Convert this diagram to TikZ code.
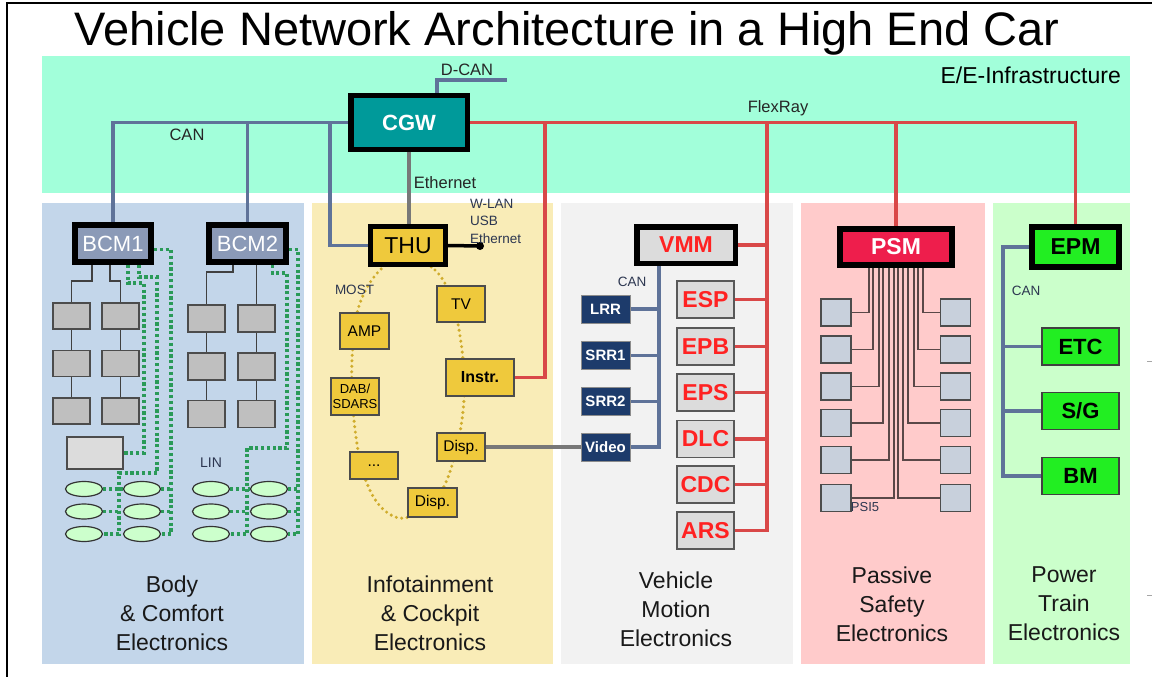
\documentclass[tikz,border=0pt]{standalone}
\usepackage{fontspec}
\setmainfont{Liberation Sans}
\usetikzlibrary{shapes.geometric}
\pgfdeclarelayer{back}
\pgfdeclarelayer{wires}
\pgfsetlayers{back,wires,main}

\newcommand{\setfs}[1]{\fontsize{#1}{#1}\selectfont}

\definecolor{infraC}{HTML}{A2FFDA}
\definecolor{bodyC}{HTML}{C3D6EA}
\definecolor{infoC}{HTML}{F9ECB7}
\definecolor{motionC}{HTML}{F2F2F2}
\definecolor{safetyC}{HTML}{FFCBCB}
\definecolor{powerC}{HTML}{CBFFCB}
\definecolor{canC}{HTML}{5F7399}
\definecolor{flexC}{HTML}{D94848}
\definecolor{ethC}{HTML}{787878}
\definecolor{cgwC}{HTML}{009A9A}
\definecolor{bcmC}{HTML}{8B9AB7}
\definecolor{thuC}{HTML}{EFC93C}
\definecolor{ecuGray}{HTML}{DCDCDC}
\definecolor{psmC}{HTML}{EE1E4C}
\definecolor{epmC}{HTML}{22EE22}
\definecolor{navyC}{HTML}{1D3B6B}
\definecolor{redT}{HTML}{FF2222}
\definecolor{linGreen}{HTML}{2A9A58}
\definecolor{mostC}{HTML}{D0AC2C}
\definecolor{slateT}{HTML}{2C3650}
\definecolor{sensorC}{HTML}{C8D0DC}
\definecolor{psiC}{HTML}{5A4848}
\definecolor{leafC}{HTML}{CCFFCC}
\definecolor{nodeGray}{HTML}{BFBFBF}

\begin{document}
\begin{tikzpicture}[x=1pt,y=-1pt,
  hub/.style={draw=black, inner sep=0pt, font=\setfs{22}},
  wire/.style={line width=3.7pt},
  canline/.style={wire, draw=canC},
  flexline/.style={wire, draw=flexC},
  ethline/.style={wire, draw=ethC},
  treeline/.style={draw=black!75, line width=1.2pt},
  linbus/.style={draw=linGreen, line width=3.4pt, dash pattern=on 3.2pt off 2.6pt},
  mostring/.style={draw=mostC, line width=3.4pt, line cap=round, dash pattern=on 0pt off 5.5pt},
  cellbox/.style={draw=black!70, fill=nodeGray, line width=1.2pt, minimum width=37pt, minimum height=26pt, inner sep=0pt},
  leafnode/.style={ellipse, draw=black!80, fill=leafC, line width=1.2pt, minimum width=37pt, minimum height=15pt, inner sep=0pt},
  infobox/.style={draw=black!70, fill=thuC, line width=1.2pt, inner sep=0pt, font=\setfs{15.5}},
  redbox/.style={draw=black!65, fill=ecuGray, line width=1.2pt, inner sep=0pt, minimum width=57pt, minimum height=37pt, text=redT, font=\setfs{23}\bfseries},
  navybox/.style={draw=black!45, fill=navyC, line width=1pt, inner sep=0pt, minimum width=49pt, minimum height=28pt, text=white, font=\setfs{15}\bfseries},
  sensorbox/.style={draw=black!70, fill=sensorC, line width=1.2pt, minimum width=30pt, minimum height=27pt, inner sep=0pt},
  psiline/.style={draw=psiC, line width=1.3pt},
  ptbox/.style={draw=black!75, fill=epmC, line width=1.2pt, inner sep=0pt, minimum width=77pt, minimum height=37pt, font=\setfs{22}\bfseries},
  buslabel/.style={font=\setfs{16.5}, text=black!85, inner sep=0pt},
  smalllabel/.style={font=\setfs{13.5}, text=slateT, inner sep=0pt},
  domaincap/.style={font=\fontsize{23}{29}\selectfont, align=center, text=black!90}
]
\useasboundingbox (0,0) rectangle (1152,677);

% ---------- frame, title and domain panels ----------
\begin{pgfonlayer}{back}
\fill[white] (0,0) rectangle (1152,677);
\draw[black, line width=1.5pt] (7,677) -- (7,3) -- (1152,3);
\fill[infraC] (42,56) rectangle (1130,193);
\fill[bodyC] (42,203) rectangle (304,664);
\fill[infoC] (312,203) rectangle (553,664);
\fill[motionC] (561,203) rectangle (793,664);
\fill[safetyC] (801,203) rectangle (985,664);
\fill[powerC] (993,203) rectangle (1130,664);
\draw[black!35, line width=0.8pt] (1147,361) -- (1152,361);
\draw[black!35, line width=0.8pt] (1147,595) -- (1152,595);
\end{pgfonlayer}

\node[font=\setfs{47}, inner sep=0pt] (title) at (567,33) {Vehicle Network Architecture in a High End Car};
\node[anchor=east, font=\setfs{23}, inner sep=0pt] (infra) at (1121,75) {E/E-Infrastructure};

% ---------- domain controllers ----------
\node[hub, line width=5.5pt, fill=cgwC, text=white, minimum width=116.5pt, minimum height=54pt, font=\setfs{22}\bfseries] (CGW) at (409,122.5) {CGW};
\node[hub, line width=6pt, fill=bcmC, text=white, minimum width=76pt, minimum height=37pt] (BCM1) at (113,243.5) {BCM1};
\node[hub, line width=6pt, fill=bcmC, text=white, minimum width=77pt, minimum height=37pt] (BCM2) at (247.5,243.5) {BCM2};
\node[hub, line width=5pt, fill=thuC, text=black, minimum width=75pt, minimum height=38pt, font=\setfs{23}] (THU) at (408,245.5) {THU};
\node[hub, line width=5.5pt, fill=ecuGray, text=redT, minimum width=98.5pt, minimum height=36.5pt, font=\setfs{23}\bfseries] (VMM) at (686,245) {VMM};
\node[hub, line width=6pt, fill=psmC, text=white, minimum width=112pt, minimum height=36pt, font=\setfs{23}\bfseries] (PSM) at (896,247) {PSM};
\node[hub, line width=6pt, fill=epmC, text=black, minimum width=87pt, minimum height=40pt, font=\setfs{23}\bfseries] (EPM) at (1075.5,247) {EPM};

% ---------- body & comfort ----------
\node[cellbox] (g11) at (71.5,316) {};
\node[cellbox] (g12) at (120.5,316) {};
\node[cellbox] (g21) at (71.5,363.5) {};
\node[cellbox] (g22) at (120.5,363.5) {};
\node[cellbox] (g31) at (71.5,411) {};
\node[cellbox] (g32) at (120.5,411) {};
\node[cellbox, minimum height=27pt] (h11) at (206.5,318.5) {};
\node[cellbox, minimum height=27pt] (h12) at (256.5,318.5) {};
\node[cellbox, minimum height=27pt] (h21) at (206.5,366.5) {};
\node[cellbox, minimum height=27pt] (h22) at (256.5,366.5) {};
\node[cellbox, minimum height=27pt] (h31) at (206.5,414) {};
\node[cellbox, minimum height=27pt] (h32) at (256.5,414) {};
\node[cellbox, fill=ecuGray, minimum width=56pt, minimum height=32pt] (lamp) at (95,453) {};

\foreach \c/\x in {A/84,B/142,C/211,D/269}{
  \node[leafnode] (e\c1) at (\x,489) {};
  \node[leafnode] (e\c2) at (\x,511.5) {};
  \node[leafnode] (e\c3) at (\x,534) {};
}
\node[smalllabel, font=\setfs{14}] (lin) at (211,463) {LIN};

\coordinate (linA) at (171,0);
\coordinate (linB) at (144,0);
\coordinate (linC) at (157,473);
\coordinate (linD) at (119,0);
\coordinate (linE) at (298,0);
\coordinate (linF) at (287,448);
\coordinate (linG) at (247,0);

% ---------- infotainment & cockpit ----------
\node[infobox, minimum width=48pt, minimum height=36pt] (TV) at (461,304) {TV};
\node[infobox, minimum width=49pt, minimum height=36pt] (AMP) at (364.5,331) {AMP};
\node[infobox, minimum width=68pt, minimum height=37pt, font=\setfs{16}\bfseries] (Instr) at (480,377.5) {Instr.};
\node[infobox, minimum width=48pt, minimum height=37pt, align=center, font=\fontsize{13}{15}\selectfont] (DAB) at (355,396.5) {DAB/\\SDARS};
\node[infobox, minimum width=48pt, minimum height=28pt] (disp1) at (461,447) {Disp.};
\node[infobox, minimum width=48pt, minimum height=27pt] (etc) at (374,465.5) {...};
\node[infobox, minimum width=49pt, minimum height=29pt] (disp2) at (432.5,502.5) {Disp.};
\node[smalllabel] (most) at (354.5,290) {MOST};
\node[anchor=north west, align=left, font=\fontsize{13.5}{17.5}\selectfont, text=slateT, inner sep=0pt] (ifaces) at (470,199) {W-LAN\\USB\\Ethernet};
\coordinate (ifaceEnd) at (480,246);

% ---------- vehicle motion ----------
\node[redbox] (ESP) at (705.5,299.5) {ESP};
\node[redbox] (EPB) at (705.5,346.5) {EPB};
\node[redbox] (EPS) at (705.5,392.5) {EPS};
\node[redbox] (DLC) at (705.5,439) {DLC};
\node[redbox] (CDC) at (705.5,484.5) {CDC};
\node[redbox] (ARS) at (705.5,530.5) {ARS};
\node[navybox] (LRR) at (605.5,309) {LRR};
\node[navybox] (SRR1) at (605.5,355.5) {SRR1};
\node[navybox] (SRR2) at (605.5,401.5) {SRR2};
\node[navybox] (Video) at (605.5,447) {Video};
\node[smalllabel] (vcanlbl) at (632,282) {CAN};

% ---------- passive safety ----------
\foreach \r/\y in {1/312.5,2/349.5,3/386.5,4/423,5/460,6/498}{
  \node[sensorbox] (sL\r) at (836,\y) {};
  \node[sensorbox] (sR\r) at (955.5,\y) {};
}
\node[smalllabel, font=\setfs{13}] (psi) at (865,507) {PSI5};

% ---------- power train ----------
\node[ptbox] (ETC) at (1080.5,346.5) {ETC};
\node[ptbox] (SG) at (1080.5,411) {S/G};
\node[ptbox] (BM) at (1080.5,476) {BM};
\node[smalllabel] (pcanlbl) at (1026,291) {CAN};

% ---------- bus labels ----------
\node[buslabel] (canlbl) at (187,135) {CAN};
\node[buslabel] (dcanlbl) at (467,70) {D-CAN};
\node[buslabel] (ethlbl) at (445,183) {Ethernet};
\node[buslabel] (flexlbl) at (778,108) {FlexRay};

% ---------- domain captions ----------
\node[domaincap] (dBody) at (172,613) {Body\\\& Comfort\\Electronics};
\node[domaincap] (dInfo) at (430,613) {Infotainment\\\& Cockpit\\Electronics};
\node[domaincap] (dMotion) at (676,609) {Vehicle\\Motion\\Electronics};
\node[domaincap] (dSafety) at (892,604) {Passive\\Safety\\Electronics};
\node[domaincap] (dPower) at (1064,604) {Power\\Train\\Electronics};

% ---------- connectors ----------
\begin{pgfonlayer}{wires}
% backbone CAN
\coordinate (thuTap) at (330,122.5);
\draw[canline] (CGW.west) -- (CGW.west -| BCM1.north) -- (BCM1.north);
\draw[canline] (CGW.west -| BCM2.north) -- (BCM2.north);
\draw[canline] (thuTap) |- (THU.west);
\coordinate (dcanEnd) at (507,80);
\draw[canline] ([xshift=28]CGW.north) |- (dcanEnd);
% Ethernet
\draw[ethline] (CGW.south) -- (CGW.south |- THU.north);
% FlexRay
\coordinate (instrTap) at (545,122.5);
\coordinate (vmmTap) at (767,122.5);
\draw[flexline] (CGW.east) -| (EPM.north);
\draw[flexline] (CGW.east -| PSM.north) -- (PSM.north);
\draw[flexline] (instrTap) |- (Instr.east);
\draw[flexline] (vmmTap) |- (ARS.east);
\draw[flexline] (VMM.east) -- (VMM.east -| vmmTap);
\foreach \n in {ESP,EPB,EPS,DLC,CDC}{
  \draw[flexline] (\n.east) -- (\n.east -| vmmTap);
}
% chassis CAN
\coordinate (vcan) at ([xshift=-27]VMM.south);
\draw[canline] (vcan) |- (Video.east);
\foreach \n in {LRR,SRR1,SRR2}{
  \draw[canline] (\n.east) -- (\n.east -| vcan);
}
% power train CAN
\coordinate (pcan) at (1003,247);
\draw[canline] (EPM.west) -- (pcan) |- (BM.west);
\foreach \n in {ETC,SG}{
  \draw[canline] (\n.west) -- (\n.west -| pcan);
}
% THU external interfaces and display link
\draw[black, line width=3.5pt] (THU.east) -- (ifaceEnd);
\fill[black] (ifaceEnd) circle[radius=4pt];
\draw[ethline] (disp1.east) -- (Video.west);
% MOST ring
\draw[mostring] plot[smooth cycle, tension=0.6] coordinates {
  (407,258) (435,270) (452,300) (462,350) (464,400) (455,455) (437,498)
  (405,518) (380,506) (363,472) (354,420) (352,360) (359,306) (380,270)};
% body sub-networks
\draw[treeline] ([xshift=-21]BCM1.south) -- ++(0,16) -| (g11.north);
\draw[treeline] ([xshift=-3]BCM1.south) -- ++(0,16) -| (g12.north);
\draw[treeline] (g11.south) -- (g21.north) (g21.south) -- (g31.north)
            (g12.south) -- (g22.north) (g22.south) -- (g32.north);
\draw[treeline] ([xshift=-14.5]BCM2.south) -- ++(0,7) -| (h11.north);
\draw[treeline] (h12.north |- BCM2.south) -- (h12.north);
\draw[treeline] (h11.south) -- (h21.north) (h21.south) -- (h31.north)
            (h12.south) -- (h22.north) (h22.south) -- (h32.north);
% LIN buses
\draw[linbus] ([yshift=-6]BCM1.east) -| (linA |- eB3.east) -- (eB3.east);
\draw[linbus] (eB1.east) -- (eB1.east -| linA);
\draw[linbus] (eB2.east) -- (eB2.east -| linA);
\draw[linbus] ([xshift=15]BCM1.south) -- ++(0,18) -| (lamp.east -| linB) -- (lamp.east);
\draw[linbus] ([xshift=26]BCM1.south) -- ++(0,12) -| (linC) -| (linD |- eA3.east) -- (eA3.east);
\draw[linbus] (eA1.east) -- (eB1.west);
\draw[linbus] (eA2.east) -- (eA2.east -| linD);
\draw[linbus] ([yshift=-6]BCM2.east) -| (linE |- eD3.east) -- (eD3.east);
\draw[linbus] (eD1.east) -- (eD1.east -| linE);
\draw[linbus] (eD2.east) -- (eD2.east -| linE);
\draw[linbus] ([xshift=25]BCM2.south) -- ++(0,8) -| (linF) -| (linG |- eC3.east) -- (eC3.east);
\draw[linbus] (eC1.east) -- (eD1.west);
\draw[linbus] (eC2.east) -- (eC2.east -| linG);
% PSI5 sensor lines
\foreach \r/\dl/\dr in {1/-27/27,2/-23/22,3/-17/18,4/-13/12,5/-7/7,6/-2/2}{
  \draw[psiline] ([xshift=\dl]PSM.south) |- (sL\r.east);
  \draw[psiline] ([xshift=\dr]PSM.south) |- (sR\r.west);
}
\end{pgfonlayer}
\end{tikzpicture}
\end{document}
